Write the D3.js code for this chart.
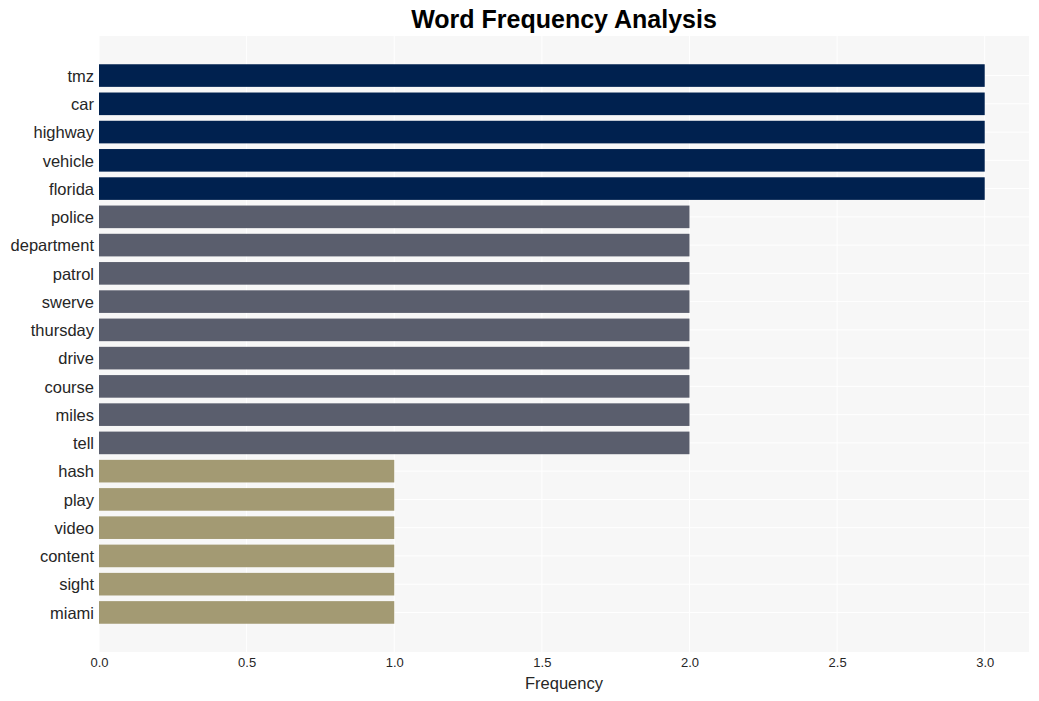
<!DOCTYPE html>
<html><head><meta charset="utf-8">
<script src="https://cdn.jsdelivr.net/npm/d3@7"></script>
<style>body{margin:0;background:#fff}svg{display:block}</style>
</head><body>
<svg id="chart" width="1039" height="701"></svg>
<script>
const words = ["tmz","car","highway","vehicle","florida","police","department","patrol","swerve","thursday","drive","course","miles","tell","hash","play","video","content","sight","miami"];
const counts = [3,3,3,3,3,2,2,2,2,2,2,2,2,2,1,1,1,1,1,1];
const xTicks = [0,0.5,1.0,1.5,2.0,2.5,3.0];
const colorByCount = {3:"#00214f",2:"#5a5e6d",1:"#a39a73"};

const FONT = "Liberation Sans, Arial, sans-serif";
const svg = d3.select("#chart");
const L=99, R=1029, T=36, B=652;
const x = d3.scaleLinear().domain([0,3.15]).range([L,R]);
const y = d3.scaleBand().domain(words).range([T,B]).paddingInner(0.2).paddingOuter(1.0);

svg.append("rect").attr("x",L).attr("y",T).attr("width",R-L).attr("height",B-T).attr("fill","#f7f7f7");
// grid
svg.append("g").selectAll("line").data(xTicks).join("line")
  .attr("x1",d=>x(d)).attr("x2",d=>x(d)).attr("y1",T).attr("y2",B)
  .attr("stroke","#ffffff").attr("stroke-width",1);
svg.append("g").selectAll("line").data(words).join("line")
  .attr("x1",L).attr("x2",R).attr("y1",d=>y(d)+y.bandwidth()/2).attr("y2",d=>y(d)+y.bandwidth()/2)
  .attr("stroke","#ffffff").attr("stroke-width",1);
// bars
svg.append("g").selectAll("rect").data(words).join("rect")
  .attr("x",x(0)).attr("y",d=>y(d)).attr("height",y.bandwidth())
  .attr("width",(d,i)=>x(counts[i])-x(0)).attr("fill",(d,i)=>colorByCount[counts[i]]);
// axes
const xAxis = d3.axisBottom(x).tickValues(xTicks).tickFormat(d3.format(".1f")).tickSize(0).tickPadding(6);
const gx = svg.append("g").attr("transform",`translate(0,${B})`).call(xAxis);
gx.select(".domain").remove();
gx.selectAll("text").attr("font-family",FONT).attr("font-size",13).attr("fill","#262626");
const yAxis = d3.axisLeft(y).tickSize(0).tickPadding(5);
const gy = svg.append("g").attr("transform",`translate(${L},1)`).call(yAxis);
gy.select(".domain").remove();
gy.selectAll("text").attr("font-family",FONT).attr("font-size",16.5).attr("fill","#262626");
// labels
svg.append("text").attr("x",(L+R)/2).attr("y",689).attr("text-anchor","middle")
  .attr("font-family",FONT).attr("font-size",16.5).attr("fill","#262626").text("Frequency");
svg.append("text").attr("x",(L+R)/2).attr("y",28).attr("text-anchor","middle")
  .attr("font-family",FONT).attr("font-weight","bold").attr("font-size",25).attr("fill","#000").text("Word Frequency Analysis");
</script>
</body></html>
